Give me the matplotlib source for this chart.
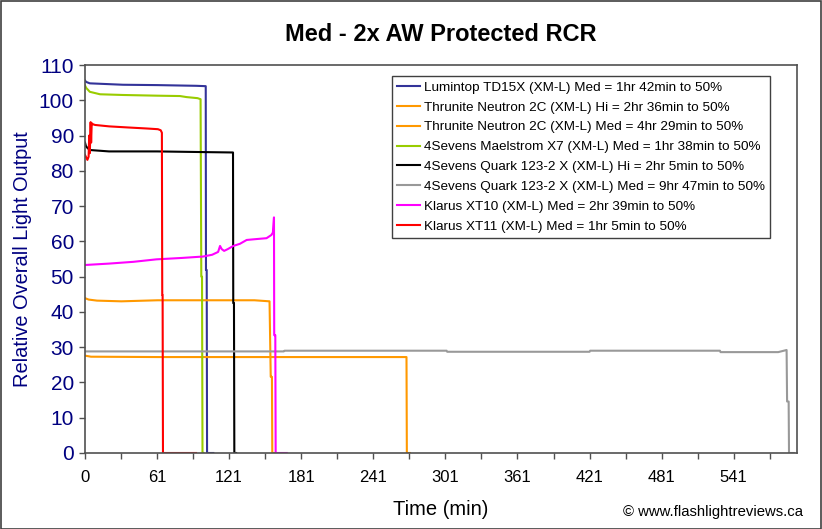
"""Runtime chart: Med - 2x AW Protected RCR."""

import matplotlib

matplotlib.use("Agg")
import matplotlib.pyplot as plt  # noqa: E402
from matplotlib.patches import Rectangle  # noqa: E402

plt.rcParams["font.family"] = ["Liberation Sans", "DejaVu Sans"]

TITLE = "Med - 2x AW Protected RCR"
X_LABEL = "Time (min)"
Y_LABEL = "Relative Overall Light Output"
CREDIT = "\u00a9 www.flashlightreviews.ca"

X_TICKS = [0, 60, 120, 180, 240, 300, 360, 420, 480, 540]
X_TICK_LABELS = ["0", "61", "121", "181", "241", "301", "361", "421", "481", "541"]
X_MINOR_TICKS = [30, 90, 150, 210, 270, 330, 390, 450, 510, 570]
Y_TICKS = [0, 10, 20, 30, 40, 50, 60, 70, 80, 90, 100, 110]

LABELS = [
    "Lumintop TD15X (XM-L) Med = 1hr 42min to 50%",
    "Thrunite Neutron 2C (XM-L) Hi = 2hr 36min to 50%",
    "Thrunite Neutron 2C (XM-L) Med = 4hr 29min to 50%",
    "4Sevens Maelstrom X7 (XM-L) Med = 1hr 38min to 50%",
    "4Sevens Quark 123-2 X (XM-L) Hi = 2hr 5min to 50%",
    "4Sevens Quark 123-2 X (XM-L) Med = 9hr 47min to 50%",
    "Klarus XT10 (XM-L) Med = 2hr 39min to 50%",
    "Klarus XT11 (XM-L) Med = 1hr 5min to 50%",
]
COLORS = ["#333399", "#FF9900", "#FF9900", "#99CC00", "#000000", "#999999", "#FF00FF", "#FF0000"]

# time (min) / relative output
lumintop_t = [0, 1, 4, 31.6, 60.4, 92.7, 100.5, 100.7, 101.3, 101.6, 106.8]
lumintop_v = [105.6, 105.2, 104.8, 104.4, 104.3, 104.1, 104.0, 51.9, 51.9, 0, 0]

neutron_hi_t = [0, 3, 10, 30.2, 60.4, 100.7, 141, 153.6, 154.6, 155.6, 155.9, 157.5]
neutron_hi_v = [43.9, 43.5, 43.2, 43.0, 43.3, 43.3, 43.3, 43.0, 21.6, 21.6, 0, 0]

neutron_med_t = [0, 5, 60.4, 151, 267.6, 267.9, 270.5]
neutron_med_v = [27.6, 27.3, 27.2, 27.2, 27.2, 0, 0]

maelstrom_t = [0, 1, 4, 12.5, 31.6, 60.4, 79, 84.6, 93.7, 96.2, 96.8, 97.4, 97.8, 98.5]
maelstrom_v = [104.2, 103.5, 102.4, 101.7, 101.5, 101.3, 101.2, 100.9, 100.6, 100.3, 50, 50, 0, 0]

quark_hi_t = [0, 0.8, 2, 4, 20, 60, 100.7, 123.2, 123.4, 124, 124.3, 125.8]
quark_hi_v = [88.0, 87.0, 86.5, 85.9, 85.5, 85.5, 85.3, 85.2, 42.5, 42.5, 0, 0]

quark_med_t = [0, 165.5, 166, 301, 301.5, 420, 420.5, 528.5, 529, 577, 584, 584.4, 585.7, 586.0, 590]
quark_med_v = [28.8, 28.8, 29.0, 29.0, 28.7, 28.7, 29.0, 29.0, 28.6, 28.6, 29.2, 14.6, 14.6, 0, 0]

xt10_t = [0, 20.1, 40.3, 59.4, 80.6, 98.3, 105.8, 110.8, 112.4, 113.8, 115.8, 118.8, 123.4,
          128.9, 134.6, 141, 151.1, 155.1, 156.4, 157.3, 157.5, 158.4, 158.7, 167.9]
xt10_v = [53.3, 53.7, 54.2, 54.9, 55.3, 55.7, 56.2, 57.0, 58.7, 57.8, 57.3, 57.8, 58.7,
          59.3, 60.4, 60.6, 60.9, 61.8, 62.5, 66.8, 33.4, 33.4, 0, 0]

xt11_t = [0, 2, 3, 3.5, 4.0, 4.7, 5.1, 5.6, 6.6, 8.4, 20.1, 35.3, 51.4, 60.7, 63, 64,
          64.3, 64.6, 64.9, 92.4]
xt11_v = [84.5, 83.1, 84, 90, 85, 93.8, 88, 93.5, 93.2, 93.0, 92.6, 92.3, 92.0, 91.8, 91.5,
          90.8, 44.8, 44.8, 0, 0]

SERIES = [
    (lumintop_t, lumintop_v),
    (neutron_hi_t, neutron_hi_v),
    (neutron_med_t, neutron_med_v),
    (maelstrom_t, maelstrom_v),
    (quark_hi_t, quark_hi_v),
    (quark_med_t, quark_med_v),
    (xt10_t, xt10_v),
    (xt11_t, xt11_v),
]

NAVY = "#000080"
FRAME = "#505050"
W, H = 822, 529


def main() -> None:
    fig = plt.figure(figsize=(W / 100, H / 100), dpi=100)
    fig.add_artist(
        Rectangle((0.5 / W, 0.5 / H), 1 - 1.5 / W, 1 - 1.5 / H, transform=fig.transFigure,
                  fill=False, edgecolor="#404040", linewidth=1.2)
    )
    ax = fig.add_axes([85 / W, 1 - 453 / H, (796.7 - 85) / W, (453 - 65) / H])

    for (t, v), color, label in zip(SERIES, COLORS, LABELS):
        ax.plot(t, v, color=color, linewidth=1.5, label=label)

    ax.set_xlim(0, 592.4)
    ax.set_ylim(0, 110)
    ax.set_xticks(X_TICKS)
    ax.set_xticklabels(X_TICK_LABELS)
    ax.set_xticks(X_MINOR_TICKS, minor=True)
    ax.set_yticks(Y_TICKS)
    ax.tick_params(axis="x", which="both", direction="out", length=4, width=1,
                   color=FRAME, labelsize=12, pad=8)
    ax.tick_params(axis="y", direction="out", length=4, width=1, color=FRAME,
                   labelsize=15, labelcolor=NAVY, pad=4)
    for spine in ax.spines.values():
        spine.set_color(FRAME)
        spine.set_linewidth(1.2)

    ax.set_ylabel(Y_LABEL, fontsize=14.4, color=NAVY)
    ax.yaxis.set_label_coords(-0.074, 0.5)
    ax.set_xlabel(X_LABEL, fontsize=14.5)
    ax.xaxis.set_label_coords(0.5, -0.122)
    ax.set_title(TITLE, fontsize=17, fontweight="bold", pad=17)

    ax.legend(
        loc="upper left",
        bbox_to_anchor=(392 / W, 1 - 76 / H),
        bbox_transform=fig.transFigure,
        borderaxespad=0,
        fontsize=9.7,
        frameon=True,
        fancybox=False,
        edgecolor="#404040",
        framealpha=1,
        handlelength=1.7,
        handletextpad=0.25,
        labelspacing=0.55,
        borderpad=0.4,
    ).get_frame().set_linewidth(1.0)

    fig.text(803 / W, 1 - 512 / H, CREDIT, ha="right", va="center", fontsize=10.7)
    fig.savefig("out.png", dpi=100)
    plt.close(fig)


if __name__ == "__main__":
    main()
